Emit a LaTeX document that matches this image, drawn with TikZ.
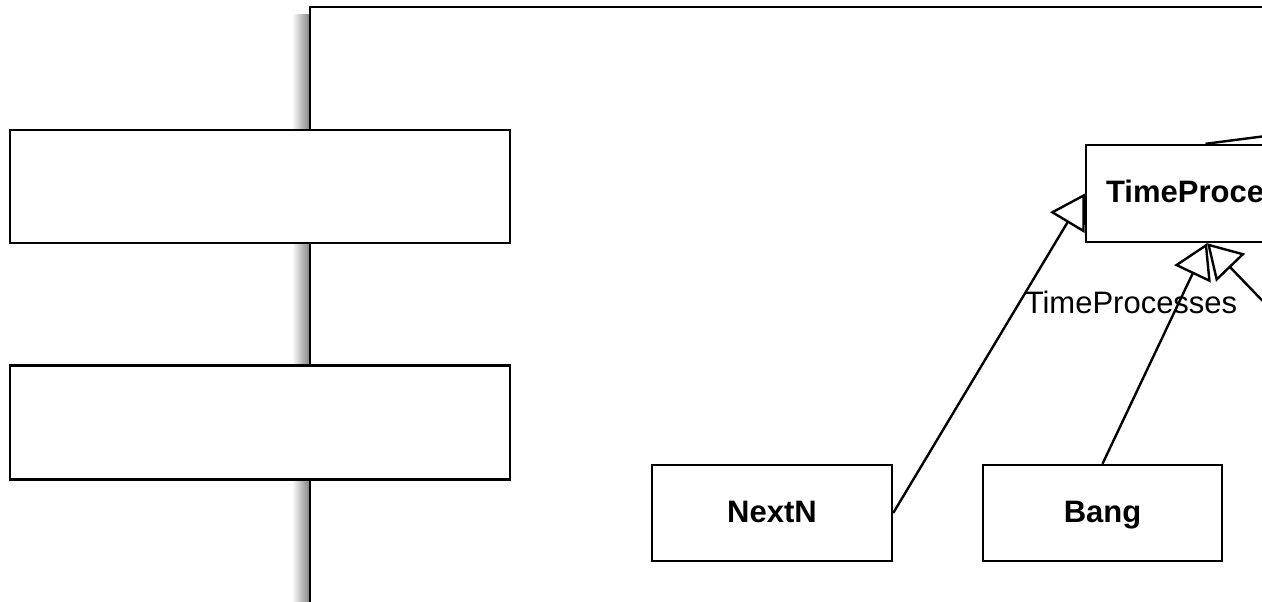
\documentclass[tikz,border=0pt]{standalone}
\usepackage{fontspec}
\setmainfont{Liberation Sans}
\usetikzlibrary{arrows.meta}
\tikzset{
  cls/.style={draw, line width=1.2pt, fill=white, inner sep=0pt,
    text height=11pt, text depth=2pt,
    font=\bfseries\fontsize{15.5}{18}\selectfont},
  gen/.style={line width=1.2pt,
    -{Triangle[open, length=17pt, width=20pt, line width=1.2pt]}}
}
\begin{document}
\begin{tikzpicture}[x=0.5pt, y=-0.5pt]
         \useasboundingbox (0,0) rectangle (1262,601);
         \clip (0,0) rectangle (1262,601);
         \shade [left color=white, right color=black!50] (292,14) rectangle (310,601);
         \draw [line width=1.2pt, fill=white] (310,7) rectangle (1330,650);
         \node [cls, minimum width=250pt, minimum height=56.5pt] (ext1) at (260,186.5) {};
         \node [cls, minimum width=250pt, minimum height=57pt] (ext2) at (260,422.5) {};
         \node [cls, minimum width=120pt, minimum height=48pt] (NextN) at (772,513) {NextN};
         \node [cls, minimum width=119.5pt, minimum height=48pt] (Bang) at (1102.5,513) {Bang};
         \node [cls, minimum width=133.5pt, minimum height=48.5pt] (TP) at (1219.5,193.5) {TimeProcesses};
         \node [inner sep=0pt, font=\fontsize{15.5}{18}\selectfont] (TPlbl) at (1131,302) {TimeProcesses};
         \coordinate (outT) at (1320,129);
         \coordinate (outB) at (1307,347);
         \draw [gen] (NextN.east) -- (TP.west);
         \draw [gen] (Bang.north) -- ([xshift=-6.25pt]TP.south);
         \draw [gen] (outB) -- ([xshift=-6.25pt]TP.south);
         \draw [line width=1.2pt] (outT) -- ([xshift=-7pt]TP.north);
\end{tikzpicture}
\end{document}
